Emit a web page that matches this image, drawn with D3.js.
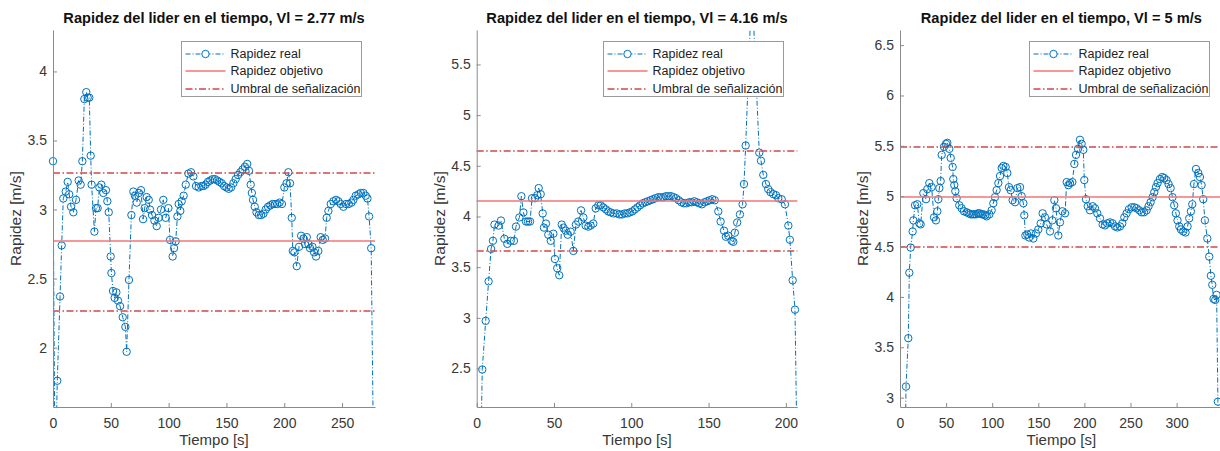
<!DOCTYPE html>
<html>
<head>
<meta charset="utf-8">
<script src="https://cdn.jsdelivr.net/npm/d3@7"></script>
<style>
  body { margin: 0; background: #fff; }
  svg { display: block; font-family: "Liberation Sans", Arial, sans-serif; }
</style>
</head>
<body>
<div id="body"></div>
<script>

// valores
var vl = [2.77, 4.16, 5];
var xlim = [[0, 278.5], [0, 207.4], [0, 350]];
var ylim = [[1.57, 4.30], [2.12, 5.84], [2.907, 6.65]];

var xticks1 = [0, 50, 100, 150, 200, 250];
var xticks2 = [0, 50, 100, 150, 200];
var xticks3 = [0, 50, 100, 150, 200, 250, 300];
var yticks1 = [2, 2.5, 3, 3.5, 4];
var yticks2 = [2.5, 3, 3.5, 4, 4.5, 5, 5.5];
var yticks3 = [3, 3.5, 4, 4.5, 5, 5.5, 6, 6.5];

var legendLabels = ["Rapidez real", "Rapidez objetivo", "Umbral de señalización"];

var time1 = [0, 1.8, 3.7, 6.1, 7.5, 8.9, 11, 12.7, 14, 15.6, 17.6, 19.9, 22.2, 23.9, 25.4, 27.1, 28.8, 30, 31.4, 32.6,
  33.4, 35.8, 37.2, 38.6, 40.1, 41.8, 43.5, 45.8, 47, 48.2, 49.9, 50.5, 51.9, 53.3, 54.8, 56.2, 58, 60.3, 62.6, 63.7,
  65.7, 67.8, 69.5, 70.9, 72.4, 74.4, 76.1, 77.9, 79.3, 81, 82.8, 83.9, 85.6, 87.7, 89.7, 91.4, 93.4, 95.4, 97.5, 99.8,
  101.2, 103.5, 104.7, 106.1, 107.6, 108.7, 110.1, 111.3, 113, 114.8, 117.1, 119.4, 121.4, 123.7, 126, 128.3, 130, 132, 134, 136,
  138, 140, 142, 144, 146, 148, 150, 152, 154, 156, 158, 160, 162, 164, 166, 168, 169.5, 171, 172, 173,
  174.5, 176, 178, 180, 182, 184, 186, 188, 190, 192, 194, 196, 198, 200.1, 202, 203.6, 205, 206.5, 207.4, 208.8,
  210.8, 212.8, 214.6, 216.6, 218, 219.5, 220.9, 222.3, 224.4, 225.8, 227.5, 229.5, 231.5, 233.3, 235.3, 236.7, 238.2, 240.2, 242.5, 244.8,
  246.8, 248.8, 251.2, 253.5, 255.8, 258.1, 259.8, 261.9, 264.2, 266.2, 268.5, 270.5, 272, 273.4, 275.2, 277.5];
var speed1 = [3.35, 1.0, 1.76, 2.37, 2.74, 3.08, 3.13, 3.20, 3.11, 3.02, 2.98, 3.07, 3.21, 3.18, 3.35, 3.80, 3.85, 3.81, 3.81, 3.39,
  3.18, 2.84, 3.01, 3.01, 3.16, 3.18, 3.12, 3.14, 3.06, 2.98, 2.66, 2.54, 2.41, 2.36, 2.40, 2.34, 2.30, 2.22, 2.15, 1.97,
  2.49, 2.96, 3.13, 3.10, 3.05, 3.12, 3.14, 2.93, 3.01, 3.09, 3.07, 3.00, 2.96, 2.92, 2.88, 2.94, 3.00, 3.07, 2.94, 3.01,
  2.78, 2.66, 2.72, 2.77, 2.95, 3.04, 2.99, 3.06, 3.10, 3.18, 3.26, 3.27, 3.24, 3.17, 3.16, 3.17, 3.17, 3.18, 3.20, 3.21,
  3.22, 3.22, 3.21, 3.20, 3.19, 3.17, 3.16, 3.15, 3.16, 3.19, 3.22, 3.25, 3.27, 3.29, 3.31, 3.33, 3.28, 3.18, 3.12, 3.07,
  3.02, 2.98, 2.96, 2.96, 2.97, 3.00, 3.02, 3.03, 3.04, 3.04, 3.04, 3.05, 3.04, 3.16, 3.19, 3.27, 3.19, 2.94, 2.70, 2.69,
  2.59, 2.73, 2.81, 2.79, 2.75, 2.80, 2.75, 2.72, 2.73, 2.69, 2.66, 2.70, 2.80, 2.78, 2.79, 2.94, 2.99, 3.04, 3.06, 3.07,
  3.06, 3.04, 3.02, 3.04, 3.04, 3.05, 3.07, 3.10, 3.11, 3.12, 3.12, 3.10, 3.08, 2.95, 2.72, 1.0];

var time2 = [1.8, 3.6, 5.8, 7.7, 9.3, 10.5, 11.5, 14.2, 15.7, 17.9, 19.8, 22, 24.1, 25.4, 27.6, 28.9, 30.2, 31.9, 33.2, 34.5,
  35.8, 37.7, 39.2, 40.1, 41.4, 42.7, 43.5, 44.8, 46.3, 47.9, 49.6, 50.6, 52.1, 53.4, 55, 56.1, 57.6, 58.9, 60.8, 62.5,
  64.2, 65.7, 67.5, 69, 70.5, 72.2, 73.7, 75.4, 77, 78.7, 80.2, 81.9, 83.6, 85.1, 86.7, 88.5, 90.6, 92.3, 94, 95.7,
  97.4, 99, 100.7, 102.4, 104, 105.7, 107.4, 109, 110.7, 112.4, 114, 115.7, 117.4, 119, 120.7, 122.4, 124, 125.7, 127.4, 129,
  130.7, 132.4, 134, 135.7, 137.4, 139, 140.7, 142.4, 144, 145.7, 147.4, 149, 150.7, 152.4, 154, 156.3, 157.8, 160, 161.2, 162.7,
  164.9, 166, 167, 168.5, 170.3, 172, 172.9, 174, 178, 182.8, 183.9, 185.4, 187.1, 188.6, 190.1, 191.9, 193.6, 195.1, 197.3, 199.4,
  201.6, 202.6, 204.4, 205.9, 207.4];
var speed2 = [0.9, 2.49, 2.97, 3.36, 3.68, 3.76, 3.92, 3.91, 3.96, 3.78, 3.73, 3.76, 3.76, 3.90, 3.99, 4.20, 4.04, 3.95, 3.95, 3.95,
  4.18, 4.18, 4.21, 4.28, 4.22, 4.03, 3.89, 3.93, 3.82, 3.76, 3.83, 3.58, 3.49, 3.42, 3.92, 3.89, 3.86, 3.82, 3.85, 3.66,
  3.92, 3.95, 4.06, 3.99, 3.91, 3.90, 3.91, 3.93, 4.08, 4.11, 4.11, 4.09, 4.07, 4.05, 4.04, 4.03, 4.03, 4.02, 4.02, 4.03,
  4.03, 4.04, 4.05, 4.07, 4.09, 4.11, 4.13, 4.14, 4.15, 4.16, 4.17, 4.18, 4.19, 4.19, 4.19, 4.20, 4.20, 4.20, 4.19, 4.18,
  4.16, 4.14, 4.13, 4.13, 4.14, 4.14, 4.15, 4.14, 4.13, 4.12, 4.14, 4.15, 4.16, 4.17, 4.16, 4.05, 3.95, 3.86, 3.80, 3.81,
  3.76, 3.75, 3.84, 3.94, 4.02, 4.12, 4.32, 4.70, 6.3, 4.63, 4.55, 4.41, 4.32, 4.27, 4.24, 4.22, 4.21, 4.18, 4.17, 4.12,
  3.91, 3.77, 3.37, 3.08, 1.5];

var time3 = [4.5, 6.5, 9, 10.1, 11.6, 13.7, 14.5, 16.3, 18.8, 21, 22.4, 25.3, 28.2, 29.6, 31.8, 34.3, 36.9, 39, 40.5, 41.6,
  42.7, 44.1, 45.2, 47.7, 49.9, 51.3, 53.5, 55, 57.1, 57.8, 58.9, 60, 61.4, 64.3, 66.8, 69.4, 72.3, 74.5, 76.5, 78.5,
  80.5, 82.5, 84.5, 86.5, 88.5, 90.5, 92.3, 94, 96.9, 99.4, 101.2, 103, 104.8, 106.7, 108.5, 110.3, 112.1, 114.6, 116.4, 118.2,
  120, 122.2, 124.8, 127.3, 130.2, 132, 133.8, 134.8, 136, 138, 140, 142, 144.6, 147.5, 150, 152.6, 154.7, 157.2, 159, 162.7,
  165.2, 167.4, 169.2, 171.7, 173.5, 176.1, 179, 180.8, 182.6, 184.4, 186.9, 189.1, 190.9, 193.1, 195.2, 197, 198.8, 199.9, 201.7, 203.6,
  206.1, 209, 211.5, 214, 216.9, 219.8, 222.3, 224.8, 227.7, 230.6, 233.2, 235.7, 238.6, 241.1, 243.3, 245.8, 248.3, 251.2, 254.1, 256.6,
  259.5, 262, 264.6, 267.5, 269.6, 271.8, 274, 275.8, 277.6, 279.4, 281.9, 284.4, 286.6, 289.1, 291.3, 293.5, 295.6, 297.4, 299.2, 301,
  302.9, 304.7, 307.2, 309.7, 311.9, 313.7, 315.5, 317, 318.8, 321, 323.5, 325.3, 327.1, 328.9, 330.7, 333.3, 335.4, 337.2, 338.7, 340.1,
  341.9, 343.4, 344.8, 346];
var speed3 = [1.5, 3.11, 3.59, 4.24, 4.49, 4.65, 4.76, 4.91, 4.92, 4.73, 4.72, 5.03, 4.97, 5.07, 5.13, 5.09, 4.79, 4.76, 4.85, 4.97,
  5.08, 5.15, 5.41, 5.49, 5.52, 5.53, 5.47, 5.38, 5.29, 5.17, 5.11, 5.05, 4.98, 4.91, 4.88, 4.85, 4.84, 4.83, 4.82, 4.82,
  4.82, 4.82, 4.83, 4.83, 4.82, 4.82, 4.81, 4.80, 4.82, 4.86, 4.93, 4.99, 5.06, 5.13, 5.20, 5.28, 5.30, 5.29, 5.23, 5.09,
  5.06, 4.96, 4.94, 5.08, 5.09, 5.00, 4.93, 4.81, 4.61, 4.62, 4.59, 4.63, 4.58, 4.63, 4.67, 4.73, 4.83, 4.79, 4.72, 4.65,
  4.76, 4.96, 4.88, 4.61, 4.74, 4.85, 4.83, 5.14, 5.11, 5.13, 5.14, 5.32, 5.41, 5.47, 5.56, 5.52, 5.46, 5.16, 4.97, 4.90,
  4.86, 4.90, 4.88, 4.83, 4.78, 4.72, 4.71, 4.73, 4.74, 4.73, 4.70, 4.69, 4.70, 4.73, 4.79, 4.83, 4.87, 4.89, 4.89, 4.88,
  4.86, 4.84, 4.84, 4.86, 4.90, 4.94, 4.99, 5.04, 5.09, 5.13, 5.17, 5.19, 5.18, 5.16, 5.12, 5.08, 4.99, 4.91, 4.83, 4.76,
  4.70, 4.67, 4.65, 4.64, 4.70, 4.78, 4.85, 4.92, 5.12, 5.27, 5.23, 5.19, 5.11, 4.97, 4.76, 4.58, 4.40, 4.21, 4.12, 3.98,
  3.97, 4.02, 2.96, 1.5];

var blue = "#0072BD", redSolid = "#f27678", redDash = "#d2474a";

var layout = [
  {left: 53, right: 375, top: 30, bottom: 407},
  {left: 476.7, right: 797.3, top: 30, bottom: 407},
  {left: 900, right: 1222.7, top: 30, bottom: 407}
];

let svg = d3.select("#body").append("svg")
    .attr("width", 1220)
    .attr("height", 451);

drawPanel(0, time1, speed1, xticks1, yticks1);
drawPanel(1, time2, speed2, xticks2, yticks2);
drawPanel(2, time3, speed3, xticks3, yticks3);

// las rojas finas salen grises en filas pares: centrar en fila impar
function oddRow(v){
    let r = Math.round(v);
    return (r % 2 === 0) ? r + 1 : r;
}

function drawPanel(i, time, speed, xticks, yticks){
    let L = layout[i];
    let x = d3.scaleLinear().domain(xlim[i]).range([L.left, L.right]);
    let y = d3.scaleLinear().domain(ylim[i]).range([L.bottom, L.top]);
    let g = svg.append("g");

    g.append("clipPath").attr("id", "clip" + i)
        .append("rect")
        .attr("x", L.left).attr("y", L.top)
        .attr("width", L.right - L.left).attr("height", L.bottom - L.top);

    let pts = d3.zip(time, speed);
    let line = d3.line().x(d => x(d[0])).y(d => y(d[1]));

    // rapidez real
    g.append("path")
        .datum(pts)
        .attr("clip-path", "url(#clip" + i + ")")
        .attr("d", line)
        .attr("fill", "none")
        .attr("stroke", blue)
        .attr("stroke-width", 1)
        .attr("stroke-dasharray", "5,2,1,2");

    g.selectAll("circle")
        .data(pts.filter(d => d[1] >= ylim[i][0] && d[1] <= ylim[i][1]))
        .enter()
        .append("circle")
        .attr("cx", d => x(d[0]))
        .attr("cy", d => y(d[1]))
        .attr("r", 3.7)
        .attr("fill", "none")
        .attr("stroke", blue)
        .attr("stroke-width", 1);

    // objetivo y umbrales
    g.append("line")
        .attr("x1", x(xlim[i][0])).attr("x2", x(xlim[i][1]))
        .attr("y1", oddRow(y(vl[i]))).attr("y2", oddRow(y(vl[i])))
        .attr("stroke", redSolid).attr("stroke-width", 1.4);
    [vl[i] + 0.5, vl[i] - 0.5].forEach(function(u){
        g.append("line")
            .attr("x1", x(xlim[i][0])).attr("x2", x(xlim[i][1]))
            .attr("y1", oddRow(y(u))).attr("y2", oddRow(y(u)))
            .attr("stroke", redDash).attr("stroke-width", 1.4)
            .attr("stroke-dasharray", "7,2.5,1.5,2.5");
    });

    // ejes
    let xAxis = d3.axisBottom(x).tickValues(xticks).tickSizeInner(-4).tickSizeOuter(0).tickPadding(11);
    let yAxis = d3.axisLeft(y).tickValues(yticks).tickSizeInner(-4).tickSizeOuter(0).tickPadding(6)
        .tickFormat(d3.format("~g"));
    let xs = g.append("g").attr("transform", "translate(0," + L.bottom + ")").call(xAxis);
    let ys = g.append("g").attr("transform", "translate(" + L.left + ",0)").call(yAxis);
    [xs, ys].forEach(function(a){
        a.select(".domain").attr("stroke", "#8a8a8a");
        a.selectAll(".tick line").attr("stroke", "#8a8a8a");
        a.selectAll(".tick text").attr("fill", "#383838").style("font-size", "14px").style("font-family", "Liberation Sans, Arial, sans-serif");
    });

    let cx = (L.left + L.right) / 2;
    g.append("text")
        .attr("x", cx).attr("y", 23)
        .attr("text-anchor", "middle")
        .style("font-size", "14.6px").style("font-weight", "bold")
        .attr("fill", "#111")
        .text("Rapidez del lider en el tiempo, Vl = " + vl[i] + " m/s");
    g.append("text")
        .attr("x", cx).attr("y", 445)
        .attr("text-anchor", "middle")
        .style("font-size", "15px")
        .attr("fill", "#383838")
        .text("Tiempo [s]");
    g.append("text")
        .attr("transform", "translate(" + (L.left - 32) + "," + ((L.top + L.bottom) / 2) + ") rotate(-90)")
        .attr("text-anchor", "middle")
        .style("font-size", "15.5px")
        .attr("fill", "#383838")
        .text("Rapidez [m/s]");

    // leyenda
    let bx = Math.round(L.right - 194) + 0.5, by = 41.5;
    let leg = g.append("g");
    leg.append("rect")
        .attr("x", bx).attr("y", by).attr("width", 180).attr("height", 55)
        .attr("fill", "#fff").attr("stroke", "#9a9a9a").attr("stroke-width", 1);
    let rows = [by + 12.5, by + 29.5, by + 47];
    leg.append("line").attr("x1", bx + 4).attr("x2", bx + 44).attr("y1", rows[0]).attr("y2", rows[0])
        .attr("stroke", blue).attr("stroke-dasharray", "5,2,1,2");
    leg.append("circle").attr("cx", bx + 24).attr("cy", rows[0]).attr("r", 3.7)
        .attr("fill", "#fff").attr("stroke", blue);
    leg.append("line").attr("x1", bx + 4).attr("x2", bx + 44).attr("y1", oddRow(rows[1])).attr("y2", oddRow(rows[1]))
        .attr("stroke", redSolid).attr("stroke-width", 1.4);
    leg.append("line").attr("x1", bx + 4).attr("x2", bx + 44).attr("y1", oddRow(rows[2])).attr("y2", oddRow(rows[2]))
        .attr("stroke", redDash).attr("stroke-width", 1.4).attr("stroke-dasharray", "7,2.5,1.5,2.5");
    leg.selectAll("text.lab")
        .data(legendLabels)
        .enter()
        .append("text")
        .attr("class", "lab")
        .attr("x", bx + 49)
        .attr("y", (d, k) => rows[k])
        .attr("dy", "0.35em")
        .style("font-size", "12.5px")
        .attr("fill", "#222")
        .text(d => d);
}

</script>
</body>
</html>
